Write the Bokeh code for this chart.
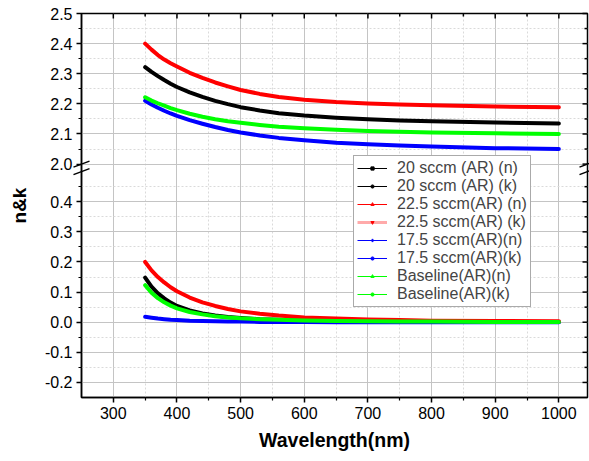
from bokeh.plotting import figure
from bokeh.models import (FixedTicker, CustomJSTickFormatter, Legend,
                          LegendItem, ColumnDataSource, Range1d)
from bokeh.embed import file_html
from bokeh.resources import INLINE

# ---------------- data ----------------
wavelength = [350, 360, 370, 380, 390, 400, 420, 440, 460, 480, 500,
              530, 560, 600, 650, 700, 750, 800, 900, 1000]

n_20 = [2.322, 2.306, 2.292, 2.279, 2.267, 2.256, 2.238, 2.223, 2.210, 2.199, 2.189,
        2.178, 2.169, 2.161, 2.154, 2.149, 2.145, 2.142, 2.138, 2.135]
k_20 = [0.148, 0.118, 0.096, 0.079, 0.065, 0.054, 0.039, 0.029, 0.022, 0.017, 0.014,
        0.010, 0.008, 0.006, 0.004, 0.003, 0.002, 0.002, 0.001, 0.001]
n_225 = [2.400, 2.380, 2.362, 2.347, 2.335, 2.324, 2.303, 2.286, 2.271, 2.258, 2.246,
         2.233, 2.223, 2.214, 2.206, 2.201, 2.198, 2.195, 2.191, 2.189]
k_225 = [0.200, 0.172, 0.150, 0.132, 0.116, 0.103, 0.082, 0.066, 0.054, 0.044, 0.036,
         0.028, 0.022, 0.016, 0.012, 0.009, 0.007, 0.005, 0.004, 0.003]
n_175 = [2.210, 2.198, 2.187, 2.177, 2.168, 2.160, 2.146, 2.134, 2.123, 2.113, 2.105,
         2.095, 2.087, 2.079, 2.071, 2.066, 2.062, 2.058, 2.053, 2.050]
k_175 = [0.018, 0.015, 0.012, 0.010, 0.008, 0.007, 0.005, 0.004, 0.003, 0.002, 0.002,
         0.001, 0.001, 0.001, 0.000, 0.000, 0.000, 0.000, 0.000, 0.000]
n_base = [2.222, 2.211, 2.202, 2.194, 2.186, 2.179, 2.167, 2.157, 2.149, 2.142, 2.137,
          2.130, 2.124, 2.119, 2.114, 2.110, 2.107, 2.105, 2.102, 2.100]
k_base = [0.123, 0.098, 0.080, 0.066, 0.055, 0.046, 0.034, 0.026, 0.020, 0.016, 0.013,
          0.010, 0.008, 0.006, 0.004, 0.003, 0.002, 0.002, 0.001, 0.001]

labels = ["20 sccm (AR) (n)", "20 sccm (AR) (k)", "22.5 sccm(AR) (n)", "22.5 sccm(AR) (k)",
          "17.5 sccm(AR)(n)", "17.5 sccm(AR)(k)", "Baseline(AR)(n)", "Baseline(AR)(k)"]

x_major = [300, 400, 500, 600, 700, 800, 900, 1000]
x_minor = [350, 450, 550, 650, 750, 850, 950]
y_low_major = [-0.2, -0.1, 0.0, 0.1, 0.2, 0.3, 0.4]
y_low_minor = [-0.15, -0.05, 0.05, 0.15, 0.25, 0.35, 0.45]
y_up_major = [2.0, 2.1, 2.2, 2.3, 2.4, 2.5]
y_up_minor = [2.05, 2.15, 2.25, 2.35, 2.45]

# ---------------- broken axis mapping ----------------
X_MIN, X_MAX = 250, 1045
LOW_MIN, LOW_MAX = -0.25, 0.5
UP_MIN, UP_MAX = 2.0, 2.5
GAP = 0.025
SHIFT = UP_MIN - LOW_MAX - GAP  # upper values are drawn shifted down by this


def up(vals):
    return [round(v - SHIFT, 6) for v in vals]


W, H = 589, 461
L, R, T, B = 81, 2, 13, 64
p = figure(width=W, height=H, output_backend="svg", toolbar_location=None,
           x_range=Range1d(X_MIN, X_MAX), y_range=Range1d(LOW_MIN, UP_MAX - SHIFT),
           min_border_left=L, min_border_right=R, min_border_top=T, min_border_bottom=B,
           background_fill_color="white", border_fill_color="white")
p.outline_line_color = "black"
p.outline_line_width = 1.5

ylow_major = [round(v, 6) for v in y_low_major]
ylow_minor = [round(v, 6) for v in y_low_minor]
xt = FixedTicker(ticks=x_major, minor_ticks=x_minor)
yt = FixedTicker(ticks=ylow_major + up(y_up_major), minor_ticks=ylow_minor + up(y_up_minor))
yfmt = CustomJSTickFormatter(args=dict(shift=SHIFT, brk=LOW_MAX + GAP / 2),
                             code="var v = tick > brk ? tick + shift : tick; return v.toFixed(1);")

FONT = "Liberation Sans"
p.xaxis.ticker = xt
p.yaxis.ticker = yt
p.yaxis.formatter = yfmt
for ax in list(p.xaxis) + list(p.yaxis):
    ax.axis_line_width = 1.5
    ax.major_tick_line_width = 1.5
    ax.minor_tick_line_width = 1.2
    ax.major_tick_out = 5
    ax.major_tick_in = 0
    ax.minor_tick_out = 3
    ax.minor_tick_in = 0
    ax.major_label_text_font = FONT
    ax.major_label_text_font_size = "16px"
    ax.major_label_text_color = "black"
    ax.major_label_standoff = 4
    ax.axis_label_text_font = FONT
    ax.axis_label_text_font_style = "bold"
    ax.axis_label_text_color = "black"

p.xaxis.axis_label = "Wavelength(nm)"
p.xaxis.axis_label_text_font_size = "19.5px"
p.xaxis.axis_label_standoff = 7
p.yaxis.axis_label = "n&k"
p.yaxis.axis_label_text_font_size = "19px"
p.yaxis.axis_label_standoff = 12

# grid
for g in (p.xgrid, p.ygrid):
    g.grid_line_color = "#c4c4c4"
    g.grid_line_width = 1
    g.minor_grid_line_color = "#dadada"
    g.minor_grid_line_dash = "2 2"
    g.minor_grid_line_width = 1
p.xgrid.ticker = xt
p.ygrid.ticker = yt

# ---------------- curves ----------------
LW = 4
def curve(y, color):
    p.line(wavelength, y, line_color=color, line_width=LW, line_join="round", line_cap="round")

curve(up(n_225), "#ff0000")
curve(up(n_20), "#000000")
curve(up(n_175), "#0000ff")
curve(up(n_base), "#00ff00")
curve(k_20, "#000000")
curve(k_175, "#0000ff")
curve(k_225, "#ff0000")
curve(k_base, "#00ff00")

# ---------------- mirrored ticks on top and right edges (inward) ----------------
px_x = (X_MAX - X_MIN) / (W - L - R)
px_y = (UP_MAX - SHIFT - LOW_MIN) / (H - T - B)
y_top = UP_MAX - SHIFT
tx = x_major + x_minor
tlen = [5] * len(x_major) + [3] * len(x_minor)
p.segment(x0=tx, y0=[y_top] * len(tx), x1=tx, y1=[y_top - l * px_y for l in tlen],
          line_color="black", line_width=1.5, level="overlay")
ty = ylow_major + up(y_up_major) + ylow_minor + up(y_up_minor)
rlen = [5] * (len(y_low_major) + len(y_up_major)) + [3] * (len(y_low_minor) + len(y_up_minor))
p.segment(x0=[X_MAX] * len(ty), y0=ty, x1=[X_MAX - l * px_x for l in rlen], y1=ty,
          line_color="black", line_width=1.5, level="overlay")

# ---------------- axis-break marks ----------------
bx, by = [], []
for xe in (X_MIN, X_MAX):
    for yb in (LOW_MAX, LOW_MAX + GAP):
        bx.append(xe)
        by.append(yb)
p.segment(x0=[x - 8 * px_x for x in bx], y0=[y - 3 * px_y for y in by],
          x1=[x + 8 * px_x for x in bx], y1=[y + 3 * px_y for y in by],
          line_color="black", line_width=1.5, level="overlay")

# ---------------- legend ----------------
styles = [("#000000", "square", 1, None), ("#000000", "circle", 1, None),
          ("#ff0000", "triangle", 1, None), ("#ff0000", "inverted_triangle", 3, "#ffaaaa"),
          ("#0000ff", "diamond", 1, None), ("#0000ff", "circle", 1, None),
          ("#00ff00", "triangle", 1, None), ("#00ff00", "circle", 1, None)]
items = []
for lab, (c, m, lw, lc) in zip(labels, styles):
    # one point far outside the visible ranges: only used for the legend glyph
    src = ColumnDataSource(dict(x=[X_MIN - 1000], y=[LOW_MIN - 10]))
    rl = p.line("x", "y", source=src, line_color=lc or c, line_width=lw)
    rs = p.scatter("x", "y", source=src, marker=m, size=3, color=c)
    items.append(LegendItem(label=lab, renderers=[rl, rs]))
leg = Legend(items=items, location=(272, 90), margin=0, padding=3, spacing=0,
             glyph_width=30, glyph_height=8, label_height=18, label_standoff=10,
             label_text_font=FONT, label_text_font_size="16px",
             border_line_color="#555555", border_line_width=1,
             background_fill_color="white", background_fill_alpha=1)
p.add_layout(leg)

open("out.html", "w").write(file_html(p, INLINE))
